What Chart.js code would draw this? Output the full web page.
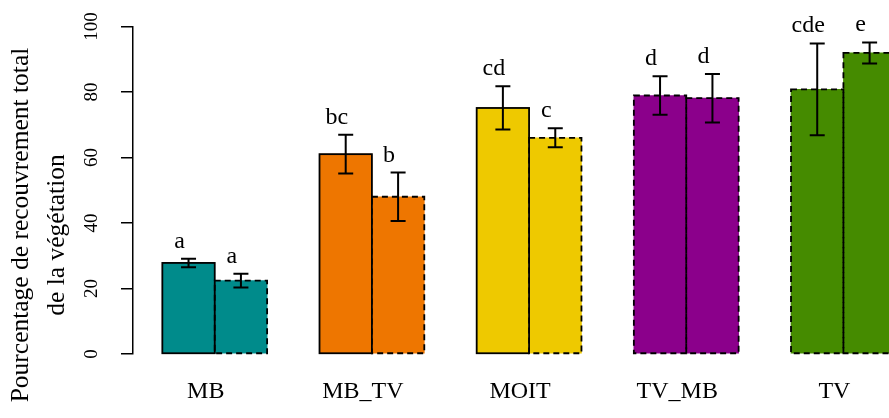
<!DOCTYPE html>
<html lang="fr">
<head>
<meta charset="UTF-8">
<title>Recouvrement total de la végétation</title>
<script src="https://cdn.jsdelivr.net/npm/chart.js"></script>
<style>
  body { margin: 0; background: #fff; }
  canvas { display: block; }
</style>
</head>
<body>
<canvas id="chart" width="889" height="418"></canvas>
<script>
const groups = ['MB', 'MB_TV', 'MOIT', 'TV_MB', 'TV'];
const meanFirst = [27.8, 61.0, 75.1, 78.9, 80.8];
const errFirst = [1.3, 5.9, 6.6, 5.9, 14.0];
const meanSecond = [22.4, 48.0, 66.0, 78.1, 91.9];
const errSecond = [2.1, 7.4, 2.9, 7.4, 3.2];
const lettersFirst = ['a', 'bc', 'cd', 'd', 'cde'];
const lettersSecond = ['a', 'b', 'c', 'd', 'e'];
const yTicks = [0, 20, 40, 60, 80, 100];

const fills = ['#008B8B', '#EE7600', '#EEC900', '#8B008B', '#458B00'];
const dashedFirst = [false, false, false, true, true];
const dashedSecond = [true, true, true, true, true];
const SERIF = '"Liberation Serif", "DejaVu Serif", serif';
const TEXT_SHIFT = -9; // labels sit a little left of the bars in the original

// barplot layout: two bars of width 1 per group, one empty unit before each group
const points = [], colors = [], errs = [], letters = [], dashed = [];
groups.forEach((g, i) => {
  points.push({ x: 1.5 + 3 * i, y: meanFirst[i] }, { x: 2.5 + 3 * i, y: meanSecond[i] });
  colors.push(fills[i], fills[i]);
  errs.push(errFirst[i], errSecond[i]);
  letters.push(lettersFirst[i], lettersSecond[i]);
  dashed.push(dashedFirst[i], dashedSecond[i]);
});

const extras = {
  id: 'extras',
  afterDatasetsDraw(chart) {
    const ctx = chart.ctx, y = chart.scales.y;
    const bars = chart.getDatasetMeta(0).data;
    ctx.save();
    ctx.strokeStyle = '#000';
    ctx.fillStyle = '#000';
    // bar outlines, solid or dashed
    bars.forEach((bar, k) => {
      ctx.lineWidth = 1.8;
      ctx.setLineDash(dashed[k] ? [6, 4] : []);
      ctx.strokeRect(bar.x - bar.width / 2, bar.y, bar.width, bar.base - bar.y);
    });
    ctx.setLineDash([]);
    // error bars and letters
    ctx.font = '24px ' + SERIF;
    ctx.textAlign = 'center';
    ctx.textBaseline = 'alphabetic';
    bars.forEach((bar, k) => {
      const v = points[k].y;
      const top = y.getPixelForValue(v + errs[k]);
      const bot = y.getPixelForValue(v - errs[k]);
      ctx.lineWidth = 2;
      ctx.beginPath();
      ctx.moveTo(bar.x, top); ctx.lineTo(bar.x, bot);
      ctx.moveTo(bar.x - 7.5, top); ctx.lineTo(bar.x + 7.5, top);
      ctx.moveTo(bar.x - 7.5, bot); ctx.lineTo(bar.x + 7.5, bot);
      ctx.stroke();
      ctx.fillText(letters[k], bar.x + TEXT_SHIFT, top - 11);
    });
    // y title, two lines
    ctx.font = '25.5px ' + SERIF;
    [['Pourcentage de recouvrement total', 28, 225], ['de la végétation', 64, 235]].forEach(([t, cx, cy]) => {
      ctx.save();
      ctx.translate(cx, cy);
      ctx.rotate(-Math.PI / 2);
      ctx.fillText(t, 0, 0);
      ctx.restore();
    });
    ctx.restore();
  }
};

new Chart(document.getElementById('chart'), {
  type: 'bar',
  data: {
    datasets: [{
      data: points,
      backgroundColor: colors,
      borderWidth: 0,
      barPercentage: 1,
      categoryPercentage: 1
    }]
  },
  options: {
    responsive: false,
    animation: false,
    layout: { padding: { top: 22, right: 0, bottom: 0, left: 0 } },
    plugins: { legend: { display: false }, tooltip: { enabled: false } },
    scales: {
      x: {
        type: 'linear',
        min: 0.44,
        max: 14.87,
        offset: false,
        grid: { display: false, drawTicks: false, offset: false },
        border: { display: false },
        afterFit: s => { s.height = 64; },
        afterBuildTicks: s => { s.ticks = groups.map((g, i) => ({ value: 2 + 3 * i + TEXT_SHIFT / 52.4 })); },
        ticks: {
          autoSkip: false,
          maxRotation: 0,
          padding: 23,
          color: '#000',
          font: { family: SERIF, size: 24 },
          callback: (v, i) => groups[i]
        }
      },
      y: {
        min: 0,
        max: 100,
        afterFit: s => { s.width = 133; },
        afterBuildTicks: s => { s.ticks = yTicks.map(v => ({ value: v })); },
        grid: { drawOnChartArea: false, drawTicks: true, tickLength: 12, color: '#000', lineWidth: 1.5 },
        border: { display: true, color: '#000', width: 1.5 },
        ticks: {
          autoSkip: false,
          minRotation: 90,
          maxRotation: 90,
          crossAlign: 'center',
          padding: 15,
          color: '#000',
          font: { family: SERIF, size: 19 }
        }
      }
    }
  },
  plugins: [extras]
});
</script>
</body>
</html>
